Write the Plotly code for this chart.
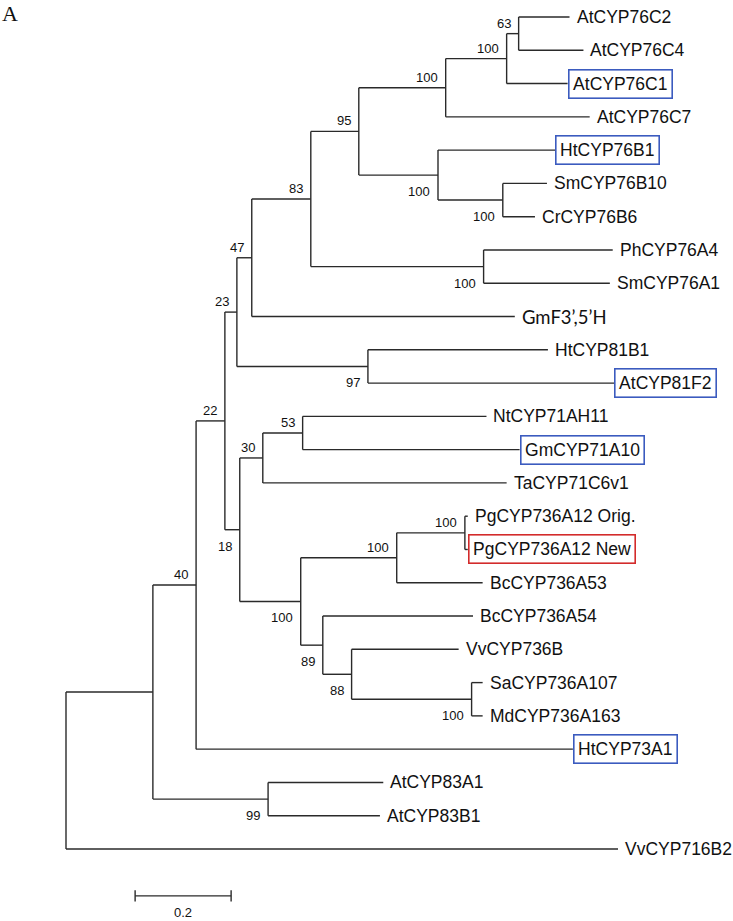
import plotly.graph_objects as go

# ---------------- data: tree topology, branch lengths, bootstrap support -------------
node = ["root", "A", "VvCYP716B2",
        "B", "C", "D", "HtCYP73A1", "E", "F", "G", "H", "I", "GmF3’,5’H",
        "J", "K", "L", "M", "N", "AtCYP76C7", "O", "AtCYP76C1",
        "AtCYP76C2", "AtCYP76C4", "HtCYP76B1", "P", "SmCYP76B10", "CrCYP76B6",
        "PhCYP76A4", "SmCYP76A1", "HtCYP81B1", "AtCYP81F2",
        "Q", "S", "T", "TaCYP71C6v1", "NtCYP71AH11", "GmCYP71A10",
        "U", "V", "W", "BcCYP736A53", "PgCYP736A12 Orig.", "PgCYP736A12 New",
        "BcCYP736A54", "X", "VvCYP736B", "Y", "SaCYP736A107", "MdCYP736A163",
        "AtCYP83A1", "AtCYP83B1"]
parent = [None, "root", "root",
          "A", "A", "B", "B", "D", "D", "E", "E", "G", "G",
          "I", "I", "J", "J", "L", "L", "N", "N",
          "O", "O", "M", "M", "P", "P",
          "K", "K", "H", "H",
          "F", "F", "Q", "Q", "T", "T",
          "S", "S", "U", "U", "W", "W",
          "V", "V", "X", "X", "Y", "Y",
          "C", "C"]
length = [0.0, 0.181, 1.150,
          0.090, 0.240, 0.060, 0.785, 0.025, 0.031, 0.031, 0.273, 0.123, 0.548,
          0.100, 0.360, 0.181, 0.165, 0.127, 0.300, 0.025, 0.127,
          0.106, 0.135, 0.244, 0.135, 0.092, 0.067,
          0.269, 0.263, 0.375, 0.513,
          0.048, 0.127, 0.083, 0.508, 0.383, 0.452,
          0.200, 0.046, 0.142, 0.179, 0.006, 0.006,
          0.313, 0.060, 0.223, 0.250, 0.023, 0.023,
          0.240, 0.233]
support = [None, None, None,
           40, 99, 22, None, 23, 18, 47, 97, 83, None,
           95, 100, 100, 100, 100, None, 63, None,
           None, None, None, 100, None, None,
           None, None, None, None,
           30, 100, 53, None, None, None,
           100, 89, 100, None, None, None,
           None, 88, None, 100, None, None,
           None, None]
boxed_blue = ["AtCYP76C1", "HtCYP76B1", "AtCYP81F2", "GmCYP71A10", "HtCYP73A1"]
boxed_red = ["PgCYP736A12 New"]
scale_length = 0.2
scale_label = "0.2"
panel_label = "A"

# ---------------- layout of the tree from the data -------------
children = {n: [] for n in node}
for n, p in zip(node, parent):
    if p is not None:
        children[p].append(n)
blen = dict(zip(node, length))
supp = dict(zip(node, support))

xpos, ypos = {}, {}
tip_counter = [0]


def place(n, x0):
    xpos[n] = x0 + blen[n]
    if not children[n]:
        ypos[n] = tip_counter[0]
        tip_counter[0] += 1
    else:
        for c in children[n]:
            place(c, xpos[n])
        ys = [ypos[c] for c in children[n]]
        ypos[n] = (min(ys) + max(ys)) / 2


place("root", 0.0)

LINE = "#2a2a2a"
xs, ys = [], []
for n, p in zip(node, parent):
    if p is not None:
        xs += [xpos[p], xpos[n], None]
        ys += [ypos[n], ypos[n], None]
    if children[n]:
        cy = [ypos[c] for c in children[n]]
        xs += [xpos[n], xpos[n], None]
        ys += [min(cy), max(cy), None]

fig = go.Figure()
fig.add_trace(go.Scatter(x=xs, y=ys, mode="lines",
                         line=dict(color=LINE, width=1.4),
                         hoverinfo="skip", showlegend=False))

SANS = "Liberation Sans, Arial, sans-serif"
annotations = []
for n in node:
    if children[n]:
        continue
    fam = SANS
    size = 17.5
    if "’" in n:
        fam = "Lato, Calibri, sans-serif"
        size = 18.5
    if n in boxed_blue or n in boxed_red:
        col = "#3b5bbf" if n in boxed_blue else "#d32b2b"
        annotations.append(dict(x=xpos[n], y=ypos[n], xref="x", yref="y",
                                text=n, showarrow=False, xanchor="left", yanchor="middle",
                                font=dict(family=fam, size=size, color="#111"),
                                bordercolor=col, borderwidth=1.6, borderpad=3.5,
                                bgcolor="white"))
    else:
        annotations.append(dict(x=xpos[n], y=ypos[n], xref="x", yref="y",
                                text=n, showarrow=False, xanchor="left", yanchor="middle",
                                xshift=5,
                                font=dict(family=fam, size=size, color="#111")))

# bootstrap labels: upper child -> above its branch, lower child -> below
for n, p in zip(node, parent):
    s = supp[n]
    if s is None:
        continue
    sib = children[p]
    upper = ypos[n] == min(ypos[c] for c in sib)
    annotations.append(dict(x=xpos[n], y=ypos[n], xref="x", yref="y",
                            text=str(s), showarrow=False, xanchor="right", yanchor="middle",
                            xshift=-6, yshift=10.5 if upper else -16.5,
                            font=dict(family=SANS, size=13, color="#111")))

# scale bar
n_tips = tip_counter[0]
sb_x0 = 0.144
sb_y = n_tips + 0.41
tick = 0.17
fig.add_trace(go.Scatter(
    x=[sb_x0, sb_x0 + scale_length, None, sb_x0, sb_x0, None,
       sb_x0 + scale_length, sb_x0 + scale_length],
    y=[sb_y, sb_y, None, sb_y - tick, sb_y + tick, None, sb_y - tick, sb_y + tick],
    mode="lines", line=dict(color=LINE, width=1.4), hoverinfo="skip", showlegend=False))
annotations.append(dict(x=sb_x0 + scale_length / 2, y=sb_y, xref="x", yref="y",
                        text=scale_label, showarrow=False, xanchor="center", yanchor="middle",
                        yshift=-17,
                        font=dict(family=SANS, size=13, color="#111")))

annotations.append(dict(x=0, y=1, xref="paper", yref="paper", text=panel_label,
                        showarrow=False, xanchor="left", yanchor="top", xshift=0, yshift=1,
                        font=dict(family="Liberation Serif, Times New Roman, serif", size=22,
                                  color="#111")))

W, H = 733, 921
px_per_unit = 480.0
root_px = 66.0
top_px, step_px = 17.0, 33.28
fig.update_layout(
    width=W, height=H, margin=dict(l=0, r=0, t=0, b=0),
    paper_bgcolor="white", plot_bgcolor="white",
    xaxis=dict(range=[-root_px / px_per_unit, (W - root_px) / px_per_unit],
               visible=False, fixedrange=True),
    yaxis=dict(range=[(H - top_px) / step_px, -top_px / step_px],
               visible=False, fixedrange=True),
    annotations=annotations,
    showlegend=False,
)
fig.write_html("out.html", config={"displayModeBar": False},
               post_script="document.body.style.margin='0';document.body.style.overflow='hidden';")
